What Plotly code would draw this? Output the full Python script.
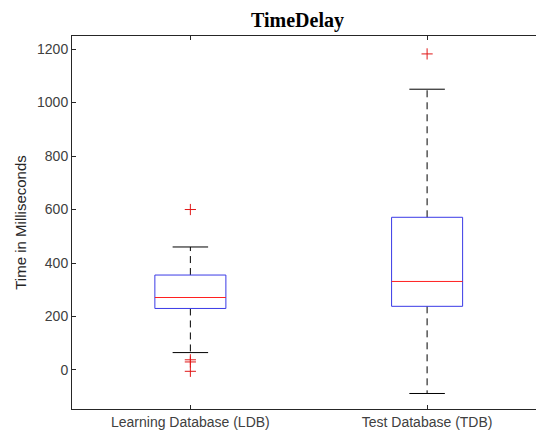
import plotly.graph_objects as go

categories = ["Learning Database (LDB)", "Test Database (TDB)"]
positions = [1, 2]
q1 = [230, 238]
median = [271, 331]
q3 = [355, 571]
lower_whisker = [65, -88]
upper_whisker = [460, 1050]
outliers = [[600, 38, 30, -5], [1182]]
y_ticks = [0, 200, 400, 600, 800, 1000, 1200]

box_half = 0.15
cap_half = 0.075

fig = go.Figure()
for i, x in enumerate(positions):
    # whiskers (dashed)
    fig.add_trace(go.Scatter(x=[x, x], y=[q3[i], upper_whisker[i]], mode="lines",
                             line=dict(color="black", width=1, dash="7px,5px"),
                             showlegend=False, hoverinfo="skip"))
    fig.add_trace(go.Scatter(x=[x, x], y=[q1[i], lower_whisker[i]], mode="lines",
                             line=dict(color="black", width=1, dash="7px,5px"),
                             showlegend=False, hoverinfo="skip"))
    # caps
    for w in (upper_whisker[i], lower_whisker[i]):
        fig.add_trace(go.Scatter(x=[x - cap_half, x + cap_half], y=[w, w], mode="lines",
                                 line=dict(color="black", width=1),
                                 showlegend=False, hoverinfo="skip"))
    # box
    fig.add_trace(go.Scatter(
        x=[x - box_half, x + box_half, x + box_half, x - box_half, x - box_half],
        y=[q1[i], q1[i], q3[i], q3[i], q1[i]], mode="lines",
        line=dict(color="#3a3ae6", width=1), showlegend=False, hoverinfo="skip"))
    # median
    fig.add_trace(go.Scatter(x=[x - box_half, x + box_half], y=[median[i], median[i]],
                             mode="lines", line=dict(color="#ff2020", width=1),
                             showlegend=False, hoverinfo="skip"))
    # outliers
    fig.add_trace(go.Scatter(x=[x] * len(outliers[i]), y=outliers[i], mode="markers",
                             marker=dict(symbol="cross-thin", size=8,
                                         line=dict(color="#e01818", width=1)),
                             showlegend=False, hoverinfo="skip"))

fig.update_layout(
    width=536, height=435,
    margin=dict(l=72, r=0, t=36, b=26),
    paper_bgcolor="white", plot_bgcolor="white",
    title=dict(text="<b>TimeDelay</b>", x=0.555, xanchor="center", y=0.954, yanchor="middle",
               xref="container",
               font=dict(family="Liberation Serif", size=20, color="black")),
    font=dict(family="Liberation Sans", size=14, color="#404040"),
)
fig.update_xaxes(range=[0.5, 2.46], tickvals=positions, ticktext=categories,
                 ticks="inside", ticklen=4, tickcolor="#262626",
                 showline=True, linecolor="#262626", linewidth=1, mirror="ticks",
                 showgrid=False, zeroline=False, automargin=False,
                 tickfont=dict(size=14, color="#404040"))
fig.update_yaxes(range=[-146, 1249], tickvals=y_ticks,
                 ticks="inside", ticklen=4, tickcolor="#262626",
                 showline=True, linecolor="#262626", linewidth=1, mirror=False,
                 showgrid=False, zeroline=False, automargin=False,
                 tickfont=dict(size=14, color="#404040"),
                 title=dict(text="Time in Milliseconds", standoff=6,
                            font=dict(size=15, color="#262626")))

fig.write_html("out.html", config={"displayModeBar": False},
               post_script="document.body.style.margin='0';document.body.style.overflow='hidden';")
